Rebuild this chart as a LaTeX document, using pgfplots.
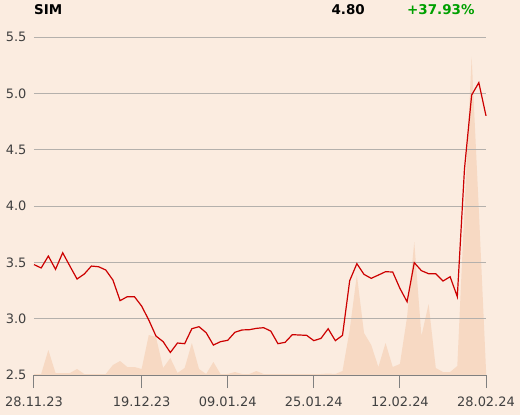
\documentclass[border=0pt]{standalone}
\usepackage{pgfplots}
\pgfplotsset{compat=1.18}
\usepackage{fontspec}
\setmainfont{DejaVu Sans}
\definecolor{bgc}{HTML}{FBECE0}
\definecolor{volc}{HTML}{F7D9C3}
\definecolor{linec}{HTML}{CC0000}
\definecolor{gridc}{HTML}{B4B0AC}
\definecolor{axc}{HTML}{808080}
\definecolor{txtc}{HTML}{404040}
\definecolor{grn}{HTML}{00A000}
\begin{document}
\begin{tikzpicture}[x=1bp,y=1bp]
\fill[bgc] (-34,-40) rectangle (486,375);
\begin{axis}[at={(0,0)},anchor=south west,scale only axis,width=452bp,height=338bp,
  xmin=0,xmax=63,ymin=0,ymax=338,hide axis]
\addplot[fill=volc,draw=none] table {
x y
0 1
1 1
2 25
3 2
4 2
5 2
6 6
7 1
8 1
9 1
10 1
11 10
12 14
13 8
14 8
15 6
16 40
17 38
18 7
19 17
20 2
21 7
22 32
23 6
24 1
25 13
26 1
27 1
28 3
29 1
30 1
31 4
32 1
33 1
34 1
35 1
36 1
37 1
38 1
39 1
40 1
41 1.5
42 1
43 4
44 45
45 100
46 42
47 30
48 8
49 32
50 8
51 11
52 58
53 133
54 39
55 71
56 7
57 3
58 3
59 9
60 167
61 318
62 165
63 5
} \closedcycle;
\end{axis}
\begin{axis}[at={(0,0)},anchor=south west,scale only axis,width=452bp,height=338bp,
  xmin=0,xmax=63,ymin=2.5,ymax=5.5,
  axis x line*=bottom, axis y line*=left,
  y axis line style={draw=none},
  x axis line style={color=axc,line width=1bp},
  ymajorgrids, grid style={color=gridc,line width=0.9bp},
  xtick={0,15,27,39,51,63},
  xticklabels={28.11.23,19.12.23,09.01.24,25.01.24,12.02.24,28.02.24},
  ytick={2.5,3.0,3.5,4.0,4.5,5.0,5.5},
  /pgf/number format/fixed,
  /pgf/number format/fixed zerofill,
  /pgf/number format/precision=1,
  /pgf/number format/assume math mode=true,
  xtick align=outside, ytick align=inside, major tick length=13bp,
  xtick style={color=axc,line width=1bp},
  ytick style={draw=none},
  tick label style={font=\fontsize{13}{15}\selectfont,text=txtc},
  yticklabel style={xshift=-4bp},
  xticklabel style={yshift=-5.3bp},
  clip=false]
\addplot[color=linec,line width=1.2bp] table {
x y
0 3.48
1 3.45
2 3.556
3 3.438
4 3.585
5 3.467
6 3.352
7 3.396
8 3.467
9 3.461
10 3.432
11 3.343
12 3.16
13 3.195
14 3.195
15 3.112
16 2.988
17 2.846
18 2.796
19 2.70
20 2.784
21 2.778
22 2.911
23 2.929
24 2.875
25 2.766
26 2.796
27 2.808
28 2.879
29 2.90
30 2.902
31 2.914
32 2.92
33 2.89
34 2.778
35 2.79
36 2.858
37 2.855
38 2.852
39 2.805
40 2.825
41 2.911
42 2.805
43 2.852
44 3.337
45 3.488
46 3.393
47 3.358
48 3.387
49 3.417
50 3.414
51 3.269
52 3.15
53 3.497
54 3.426
55 3.399
56 3.399
57 3.334
58 3.372
59 3.195
60 4.33
61 4.985
62 5.095
63 4.80
};
\end{axis}
\node[anchor=base west,inner sep=0pt,font=\fontsize{13.5}{15}\selectfont\bfseries] at (0,360.3) {SIM};
\node[anchor=base east,inner sep=0pt,font=\fontsize{13.5}{15}\selectfont\bfseries] at (331,360.3) {4.80};
\node[anchor=base west,inner sep=0pt,font=\fontsize{13.5}{15}\selectfont\bfseries,text=grn] at (373,360.3) {+37.93\%};
\pgfresetboundingbox
\useasboundingbox (-34,-40) rectangle (486,375);
\end{tikzpicture}
\end{document}
